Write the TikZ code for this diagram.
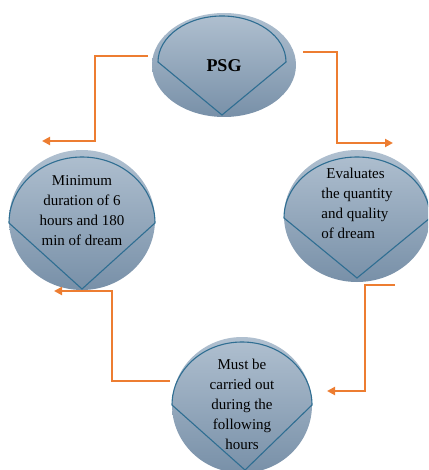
\documentclass[tikz,border=0pt]{standalone}
\usepackage{fontspec}
\setmainfont{Liberation Serif}
\usetikzlibrary{arrows.meta,shapes.geometric}
\definecolor{orng}{HTML}{ED7D31}
\definecolor{edgeb}{HTML}{2F6E92}
\definecolor{topb}{HTML}{B0C0D0}
\definecolor{botb}{HTML}{7890A8}
\begin{document}
\begin{tikzpicture}[x=1pt,y=-1pt,
  blob/.style={ellipse, draw=none, top color=topb, bottom color=botb, inner sep=0pt},
  petal/.style={draw=edgeb, line width=1.1pt, line join=miter},
  lbl/.style={font=\fontsize{15}{20}\selectfont, align=center, text=black, inner sep=0pt},
  flow/.style={draw=orng, line width=2.2pt, line join=miter, -{Triangle[length=8pt,width=8pt]}}]
\useasboundingbox (0,0) rectangle (428,470);
\clip (0,0) rectangle (428,470);
% circles
\node[blob, minimum width=144pt, minimum height=104pt] (c1) at (224,65) {};
\node[blob, minimum width=146pt, minimum height=140pt] (c2) at (82,220) {};
\node[blob, minimum width=146pt, minimum height=132pt] (c3) at (357,216) {};
\node[blob, minimum width=140pt, minimum height=136pt] (c4) at (242,405) {};
% petals
\draw[petal] (158,62) arc[start angle=180,end angle=0,x radius=64pt,y radius=46pt] -- (222,115) -- cycle;
\draw[petal] (9,223) arc[start angle=180,end angle=0,x radius=73pt,y radius=66pt] -- (82,289) -- cycle;
\draw[petal] (284,218) arc[start angle=180,end angle=0,x radius=73pt,y radius=61pt] -- (357,278) -- cycle;
\draw[petal] (172,405) arc[start angle=180,end angle=0,x radius=70pt,y radius=63pt] -- (245,470) -- cycle;
% labels
\node[lbl, font=\bfseries\fontsize{18}{20}\selectfont] (t1) at (224,66) {PSG};
\node[lbl] (t2) at (82,211) {Minimum\\duration of 6\\hours and 180\\min of dream};
\node[lbl, align=left] (t3) at (357,203) {\hspace*{5pt}Evaluates\\the quantity\\and quality\\of dream};
\node[lbl] (t4) at (242,404) {Must be\\carried out\\during the\\following\\hours};
% connectors
\coordinate (a1s) at (148,56); \coordinate (a1m) at (95,100); \coordinate (a1e) at (42,141);
\coordinate (a2s) at (303,52); \coordinate (a2m) at (337,100); \coordinate (a2e) at (393,143);
\coordinate (a3s) at (395,285); \coordinate (a3m) at (365,340); \coordinate (a3e) at (327,391);
\coordinate (a4s) at (170,381); \coordinate (a4m) at (112,340); \coordinate (a4e) at (54,291);
\draw[flow] (a1s) -| (a1m) |- (a1e);
\draw[flow] (a2s) -| (a2m) |- (a2e);
\draw[flow] (a3s) -| (a3m) |- (a3e);
\draw[flow] (a4s) -| (a4m) |- (a4e);
\end{tikzpicture}
\end{document}
